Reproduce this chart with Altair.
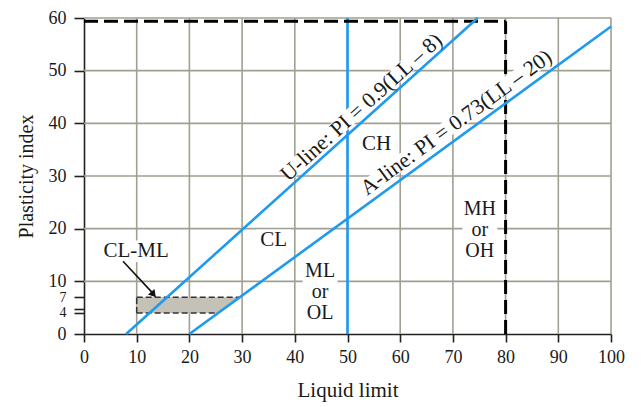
import altair as alt
import pandas as pd

# ---- data ----
x_ticks = [0, 10, 20, 30, 40, 50, 60, 70, 80, 90, 100]
y_ticks = [0, 4, 4.7, 7, 10, 20, 30, 40, 50, 60]
grid_x = [10, 20, 30, 40, 50, 60, 70, 80, 90, 100]
grid_y = [10, 20, 30, 40, 50, 60]

u_ll = [8, 74.7]
u_pi = [0, 60]
a_ll = [20, 100]
a_pi = [0, 58.4]
v_ll = [50, 50]
v_pi = [0, 60]

box_pi = [4, 7]
box_left = [10, 10]
box_right = [25.5, 29.6]

dash_v_ll = [80, 80]
dash_v_pi = [0, 59.4]
dash_h_ll = [0, 80]
dash_h_pi = [59.4, 59.4]

zone_text = ["CL-ML", "CL", "CH"]
zone_ll = [9.9, 36.0, 55.5]
zone_pi = [15.7, 17.8, 36.1]

stack_text = ["ML", "or", "OL", "MH", "or", "OH"]
stack_ll = [44.8, 44.8, 44.8, 75.1, 75.1, 75.1]
stack_pi = [12.0, 8.0, 4.0, 23.8, 19.8, 15.8]

u_label = "U-line: PI = 0.9(LL \u2013 8)"
u_label_pos = (52.6, 43.1)
a_label = "A-line: PI = 0.73(LL \u2013 20)"
a_label_pos = (70.6, 40.2)

arrow_ll = [7.4, 13.0]
arrow_pi = [13.8, 7.8]
arrow_head = (13.2, 7.5)

FONT = "Liberation Serif"
GRID = "#a19f92"
BLUE = "#1e9af0"
INK = "#1a1a1a"

xs = alt.Scale(domain=[0, 100], nice=False, zero=False)
ys = alt.Scale(domain=[0, 60], nice=False, zero=False)

x_axis = alt.Axis(values=x_ticks, grid=False, title="Liquid limit", labelFlush=False,
                  labelOverlap=False, tickSize=8, labelPadding=6, titlePadding=13,
                  labelFont=FONT, titleFont=FONT, labelFontSize=18, titleFontSize=21,
                  titleFontWeight="normal", labelColor=INK, titleColor=INK,
                  domainColor="#222", domainWidth=1.6, tickColor="#222", tickWidth=1.6)
y_axis = alt.Axis(values=y_ticks, grid=False, title="Plasticity index", labelOverlap=False,
                  labelFlush=False, tickSize=10, labelPadding=8, titlePadding=12,
                  labelExpr="datum.value == 4.7 ? '' : datum.label",
                  labelFont=FONT, titleFont=FONT, titleFontSize=20,
                  titleFontWeight="normal", labelColor=INK, titleColor=INK,
                  domainColor="#222", domainWidth=1.6, tickColor="#222", tickWidth=1.6,
                  labelFontSize={"condition": {"test": "datum.value > 0 && datum.value < 10", "value": 14},
                                 "value": 18})

X = lambda f: alt.X(f, scale=xs, axis=x_axis)
Y = lambda f: alt.Y(f, scale=ys, axis=y_axis)

# grid
gx = alt.Chart(pd.DataFrame({"x": grid_x})).mark_rule(color=GRID, strokeWidth=1.6).encode(
    x=X("x:Q"), y=alt.value(0), y2=alt.value(316))
gy = alt.Chart(pd.DataFrame({"y": grid_y})).mark_rule(color=GRID, strokeWidth=1.6).encode(
    y=Y("y:Q"), x=alt.value(0), x2=alt.value(527))

# CL-ML shaded zone
box_df = pd.DataFrame({"pi": box_pi, "l": box_left, "r": box_right})
box_fill = alt.Chart(box_df).mark_area(orient="horizontal", color="#c4c2b6", opacity=1).encode(
    y=Y("pi:Q"), x=X("l:Q"), x2="r:Q")

def line(xv, yv, **kw):
    return alt.Chart(pd.DataFrame({"x": xv, "y": yv})).mark_line(**kw).encode(
        x=X("x:Q"), y=Y("y:Q"))

bdash = dict(color="#333", strokeDash=[6, 3], strokeWidth=1.5)
box_top = line([box_left[1], box_right[1]], [box_pi[1], box_pi[1]], **bdash)
box_bot = line([box_left[0], box_right[0]], [box_pi[0], box_pi[0]], **bdash)
box_side = line(box_left, box_pi, **bdash)

uline = line(u_ll, u_pi, color=BLUE, strokeWidth=2.6)
aline = line(a_ll, a_pi, color=BLUE, strokeWidth=2.6)
vline = line(v_ll, v_pi, color=BLUE, strokeWidth=2.6)
dv = line(dash_v_ll, dash_v_pi, color="black", strokeWidth=3, strokeDash=[14, 6])
dh = line(dash_h_ll, dash_h_pi, color="black", strokeWidth=3, strokeDash=[14, 6])

arrow = line(arrow_ll, arrow_pi, color="#111", strokeWidth=1.6)
head = alt.Chart(pd.DataFrame({"x": [arrow_head[0]], "y": [arrow_head[1]]})).mark_point(
    shape="triangle-up", filled=True, color="#111", size=70, angle=140, opacity=1).encode(
    x=X("x:Q"), y=Y("y:Q"))

zdf = pd.DataFrame({"t": zone_text, "x": zone_ll, "y": zone_pi})
sdf = pd.DataFrame({"t": stack_text, "x": stack_ll, "y": stack_pi})
udf = pd.DataFrame({"t": [u_label], "x": [u_label_pos[0]], "y": [u_label_pos[1]]})
adf = pd.DataFrame({"t": [a_label], "x": [a_label_pos[0]], "y": [a_label_pos[1]]})

# white backgrounds behind the labels (sized from the label text)
def mask(df):
    return alt.Chart(df).transform_calculate(
        x1="datum.x - (length(datum.t) * 1.25 + 0.8)",
        x2="datum.x + (length(datum.t) * 1.25 + 0.8)",
        y1="datum.y - 2.05", y2="datum.y + 2.05",
    ).mark_rect(color="white", opacity=1).encode(
        x=X("x1:Q"), x2="x2:Q", y=Y("y1:Q"), y2="y2:Q")

def band(df, cos_a, sin_a):
    return alt.Chart(df).transform_calculate(
        x1=f"datum.x - 0.8 * length(datum.t) * {cos_a}",
        y1=f"datum.y - 0.8 * length(datum.t) * {sin_a}",
        x2=f"datum.x + 0.8 * length(datum.t) * {cos_a}",
        y2=f"datum.y + 0.8 * length(datum.t) * {sin_a}",
    ).mark_rule(color="white", strokeWidth=16, strokeCap="butt").encode(
        x=X("x1:Q"), y=Y("y1:Q"), x2="x2:Q", y2="y2:Q")

u_band = band(udf, 0.743, 0.669)
a_band = band(adf, 0.807, 0.590)

def texts(df, size, **kw):
    style = dict(font=FONT, fontSize=size, align="center", baseline="middle", color=INK)
    style.update(kw)
    return alt.Chart(df).mark_text(**style).encode(x=X("x:Q"), y=Y("y:Q"), text="t:N")

chart = alt.layer(
    gx, gy, box_fill, box_top, box_bot, box_side,
    vline, dv, dh,
    mask(zdf), mask(sdf), u_band, a_band,
    uline, aline,
    texts(zdf, 21), texts(sdf, 20),
    texts(udf, 21.7, angle=318), texts(adf, 21.7, angle=323.9),
    arrow, head,
).properties(
    width=527, height=316,
    background="white",
    autosize=alt.AutoSizeParams(type="none"),
    padding={"left": 84, "top": 18, "right": 30, "bottom": 73},
).configure_view(stroke=None)

chart.save("out.html", embed_options={"renderer": "svg", "actions": False})
